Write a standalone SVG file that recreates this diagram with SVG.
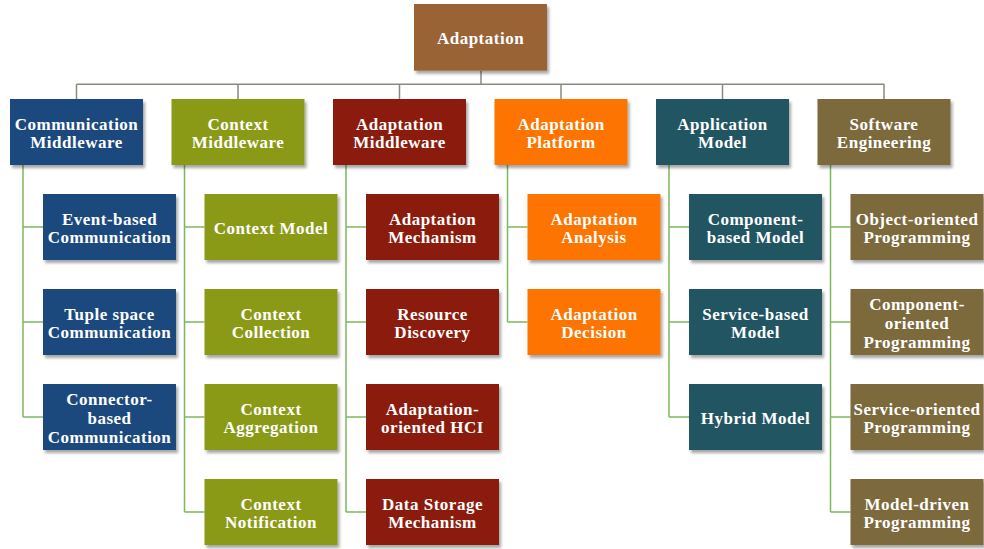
<svg xmlns="http://www.w3.org/2000/svg" width="984" height="549" viewBox="0 0 984 549">
<defs>
<filter id="sh" x="-10%" y="-10%" width="125%" height="130%">
<feDropShadow dx="2" dy="3" stdDeviation="1.8" flood-color="#000" flood-opacity="0.35"/>
</filter>
<style>
.b{filter:url(#sh)}
.t{font-family:"Liberation Serif","Times New Roman",serif;font-weight:bold;font-size:17px;fill:#fff;text-anchor:middle;letter-spacing:0.5px}
.top{fill:none;stroke:#8c8a80;stroke-width:1.5}
.br{fill:none;stroke:#7cb95c;stroke-width:1.5}
.c0{fill:#9a6434}.c1{fill:#1f497d}.c2{fill:#8b9a16}.c3{fill:#8b1c0e}.c4{fill:#fd7400}.c5{fill:#245562}.c6{fill:#7c6a3c}
</style>
</defs>
<g id="connectors">
<path class="top" d="M481,70.7V84.3M76.5,84.3H884.5M76.5,84.3V99M238,84.3V99M399.5,84.3V99M561,84.3V99M722.5,84.3V99M884,84.3V99"/>
<path class="br" d="M23,165V417M23,227H43M23,322H43M23,417H43"/>
<path class="br" d="M184.5,165V512M184.5,227H204.5M184.5,322H204.5M184.5,417H204.5M184.5,512H204.5"/>
<path class="br" d="M346,165V512M346,227H366M346,322H366M346,417H366M346,512H366"/>
<path class="br" d="M507.5,165V322M507.5,227H527.5M507.5,322H527.5"/>
<path class="br" d="M669,165V417M669,227H689M669,322H689M669,417H689"/>
<path class="br" d="M830.5,165V512M830.5,227H850.5M830.5,322H850.5M830.5,417H850.5M830.5,512H850.5"/>
</g>
<g id="root"><rect class="b c0" x="414" y="4" width="133" height="66.7"/><text class="t" x="480.5" y="44.4">Adaptation</text></g>

<g id="comm"><rect class="b c1" x="10" y="99" width="133" height="66"/><text class="t" x="76.5" y="129.8">Communication</text><text class="t" x="76.5" y="148.3">Middleware</text></g>
<g id="ctx"><rect class="b c2" x="171.5" y="99" width="133" height="66"/><text class="t" x="238" y="129.8">Context</text><text class="t" x="238" y="148.3">Middleware</text></g>
<g id="adm"><rect class="b c3" x="333" y="99" width="133" height="66"/><text class="t" x="399.5" y="129.8">Adaptation</text><text class="t" x="399.5" y="148.3">Middleware</text></g>
<g id="apf"><rect class="b c4" x="494.5" y="99" width="133" height="66"/><text class="t" x="561" y="129.8">Adaptation</text><text class="t" x="561" y="148.3">Platform</text></g>
<g id="apm"><rect class="b c5" x="656" y="99" width="133" height="66"/><text class="t" x="722.5" y="129.8">Application</text><text class="t" x="722.5" y="148.3">Model</text></g>
<g id="se"><rect class="b c6" x="817.5" y="99" width="133" height="66"/><text class="t" x="884" y="129.8">Software</text><text class="t" x="884" y="148.3">Engineering</text></g>

<g id="comm1"><rect class="b c1" x="43" y="194" width="133" height="66"/><text class="t" x="109.5" y="224.8">Event-based</text><text class="t" x="109.5" y="243.3">Communication</text></g>
<g id="comm2"><rect class="b c1" x="43" y="289" width="133" height="66"/><text class="t" x="109.5" y="319.8">Tuple space</text><text class="t" x="109.5" y="338.3">Communication</text></g>
<g id="comm3"><rect class="b c1" x="43" y="384" width="133" height="66"/><text class="t" x="109.5" y="405.3">Connector-</text><text class="t" x="109.5" y="424">based</text><text class="t" x="109.5" y="442.8">Communication</text></g>

<g id="ctx1"><rect class="b c2" x="204.5" y="194" width="133" height="66"/><text class="t" x="271" y="234">Context Model</text></g>
<g id="ctx2"><rect class="b c2" x="204.5" y="289" width="133" height="66"/><text class="t" x="271" y="319.8">Context</text><text class="t" x="271" y="338.3">Collection</text></g>
<g id="ctx3"><rect class="b c2" x="204.5" y="384" width="133" height="66"/><text class="t" x="271" y="414.8">Context</text><text class="t" x="271" y="433.3">Aggregation</text></g>
<g id="ctx4"><rect class="b c2" x="204.5" y="479" width="133" height="66"/><text class="t" x="271" y="509.8">Context</text><text class="t" x="271" y="528.3">Notification</text></g>

<g id="adm1"><rect class="b c3" x="366" y="194" width="133" height="66"/><text class="t" x="432.5" y="224.8">Adaptation</text><text class="t" x="432.5" y="243.3">Mechanism</text></g>
<g id="adm2"><rect class="b c3" x="366" y="289" width="133" height="66"/><text class="t" x="432.5" y="319.8">Resource</text><text class="t" x="432.5" y="338.3">Discovery</text></g>
<g id="adm3"><rect class="b c3" x="366" y="384" width="133" height="66"/><text class="t" x="432.5" y="414.8">Adaptation-</text><text class="t" x="432.5" y="433.3">oriented HCI</text></g>
<g id="adm4"><rect class="b c3" x="366" y="479" width="133" height="66"/><text class="t" x="432.5" y="509.8">Data Storage</text><text class="t" x="432.5" y="528.3">Mechanism</text></g>

<g id="apf1"><rect class="b c4" x="527.5" y="194" width="133" height="66"/><text class="t" x="594" y="224.8">Adaptation</text><text class="t" x="594" y="243.3">Analysis</text></g>
<g id="apf2"><rect class="b c4" x="527.5" y="289" width="133" height="66"/><text class="t" x="594" y="319.8">Adaptation</text><text class="t" x="594" y="338.3">Decision</text></g>

<g id="apm1"><rect class="b c5" x="689" y="194" width="133" height="66"/><text class="t" x="755.5" y="224.8">Component-</text><text class="t" x="755.5" y="243.3">based Model</text></g>
<g id="apm2"><rect class="b c5" x="689" y="289" width="133" height="66"/><text class="t" x="755.5" y="319.8">Service-based</text><text class="t" x="755.5" y="338.3">Model</text></g>
<g id="apm3"><rect class="b c5" x="689" y="384" width="133" height="66"/><text class="t" x="755.5" y="424">Hybrid Model</text></g>

<g id="se1"><rect class="b c6" x="850.5" y="194" width="133" height="66"/><text class="t" x="917" y="224.8">Object-oriented</text><text class="t" x="917" y="243.3">Programming</text></g>
<g id="se2"><rect class="b c6" x="850.5" y="289" width="133" height="66"/><text class="t" x="917" y="310.3">Component-</text><text class="t" x="917" y="329">oriented</text><text class="t" x="917" y="347.8">Programming</text></g>
<g id="se3"><rect class="b c6" x="850.5" y="384" width="133" height="66"/><text class="t" x="917" y="414.8">Service-oriented</text><text class="t" x="917" y="433.3">Programming</text></g>
<g id="se4"><rect class="b c6" x="850.5" y="479" width="133" height="66"/><text class="t" x="917" y="509.8">Model-driven</text><text class="t" x="917" y="528.3">Programming</text></g>
</svg>
